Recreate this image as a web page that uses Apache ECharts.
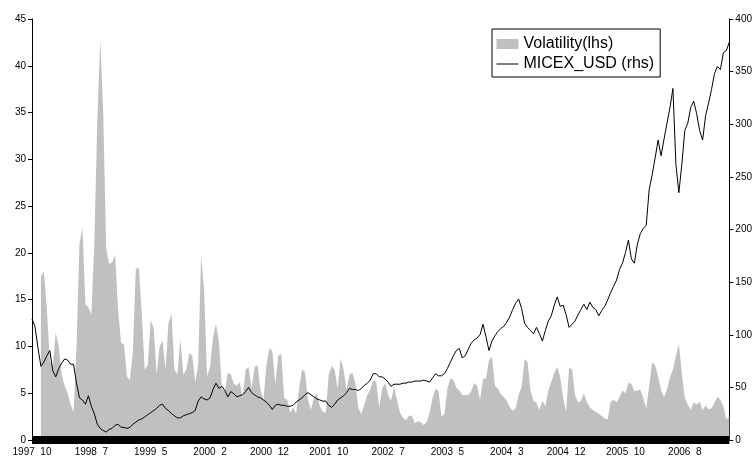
<!DOCTYPE html>
<html>
<head>
<meta charset="utf-8">
<script src="https://cdn.jsdelivr.net/npm/echarts@6/dist/echarts.min.js"></script>
<style>html,body{margin:0;padding:0;background:#fff}#c{width:755px;height:460px}</style>
</head>
<body>
<div id="c"></div>
<script>
// Tick labels shown every 20 periods on the time axis
const tickLabels = ["1997  10","1998  7","1999  5","2000  2","2000  12","2001  10","2002  7","2003  5","2004  3","2004  12","2005  10","2006  8"];
const labelStep = 20;

// Volatility (lhs), 236 periods
const volatility = [
null,null,null,17.5,18.0,14.0,8.5,7.8,11.5,10.0,
7.0,5.8,5.0,3.8,3.0,10.0,21.0,22.7,14.5,14.2,
13.4,21,34,42.8,35,20.5,18.8,19.0,19.8,14.0,
10.4,10.2,6.8,6.4,9.5,18.3,18.4,13.5,7.5,8.0,
12.8,12.0,7.0,10.0,10.6,7.6,12.5,13.5,7.5,7.0,
10.8,7.0,7.5,9.3,9.0,6.2,8.0,19.8,16,6.8,
7.8,11.0,12.4,10.5,5.5,5.2,7.2,7.0,6.0,5.8,
6.2,4.5,7.5,7.8,5.5,7.8,8.0,5.4,4.3,8.0,
9.8,9.5,6.0,9.0,9.2,4.5,4.3,2.9,3.5,2.8,
5.5,7.5,7.3,4.3,3.2,4.5,5.0,3.6,3.0,2.9,
7.0,7.9,7.5,5.5,8.7,7.5,5.4,7.0,7.2,6.0,
3.4,2.8,3.8,4.8,5.4,6.4,6.2,3.5,5.5,6.1,
4.8,4.2,5.7,4.3,2.9,2.4,2.1,2.6,2.6,1.8,
2.0,1.9,1.6,1.9,2.9,4.5,5.5,5.2,2.5,2.8,
5.5,6.6,6.4,5.6,5.3,4.8,4.8,4.8,5.2,6.1,
5.8,4.3,6.5,6.6,8.5,8.9,5.8,5.5,4.9,4.6,
4.2,3.5,3.1,3.4,4.8,5.7,8.6,8.4,5.3,4.2,
4.0,3.2,4.2,3.6,5.3,6.2,7.2,7.8,6.8,4.5,
3.0,7.7,7.6,4.8,4.0,4.2,5.0,4.0,3.5,3.2,
3.0,2.8,2.6,2.3,2.2,4.1,4.3,4.0,4.6,5.3,
5.0,6.1,6.0,5.2,5.3,5.4,4.5,3.4,5.8,8.3,
8.0,6.8,5.3,4.6,5.4,6.7,7.5,9.0,10.3,7.2,
4.5,3.8,3.2,4.0,3.8,4.1,3.2,3.7,3.3,3.4,
4.0,4.6,4.3,3.6,2.2,2.5
];

// MICEX_USD (rhs), 236 periods
const micexUsd = [
115,108,88,70,74,80,85,66,60,68,
73,77,76,72,72,54,40,38,34,42,
32,25,15,11,9,7.6,10,11,14,15,
12,12,11,12,15,17,19,20,22,24,
26,28,30,33,34,30,28,25,23,21,
21,23,24,25,26,28,37,41,39,38,
40,48,54,49,51,47,41,46,44,41,
42,43,46,50,45,43,41,40,38,36,
33,29,33,34,33,33,32,32,33,36,
38,40,43,45,43,41,39,38,37,37,
33,31,34,38,40,42,45,49,48,48,
47,49,52,54,57,63,63,60,60,58,
55,51,53,53,53,54,54,55,55,56,
56,56,57,56,55,59,63,61,61,63,
68,74,80,85,87,78,80,86,92,95,
97,100,110,98,85,94,99,103,106,108,
112,117,124,130,134,125,111,107,104,101,
107,101,94,104,113,118,128,136,127,128,
119,107,110,113,119,124,129,124,131,126,
124,118,123,127,133,140,146,152,162,168,
178,190,172,168,186,196,201,204,238,252,
268,285,270,286,301,316,334,262,235,262,
294,301,316,322,310,294,285,308,320,333,
348,355,352,368,370,378
];

const categories = volatility.map((_, i) => String(i));

const font = "'Liberation Sans', Arial, sans-serif";
const chart = echarts.init(document.getElementById('c'), null, {renderer: 'canvas'});
chart.setOption({
  animation: false,
  backgroundColor: '#ffffff',
  textStyle: {fontFamily: font, color: '#000'},
  grid: {left: 32, right: 20, top: 19, bottom: 20, containLabel: false},
  legend: {
    orient: 'vertical',
    left: 492, top: 29,
    padding: [7, 6, 5, 4],
    itemGap: 4,
    itemWidth: 22, itemHeight: 10,
    borderColor: '#000', borderWidth: 1,
    backgroundColor: '#fff',
    textStyle: {fontFamily: font, fontSize: 16, color: '#000', lineHeight: 16},
    data: [
      {name: 'Volatility(lhs)', icon: 'rect'},
      {name: 'MICEX_USD (rhs)', itemStyle: {opacity: 0}, lineStyle: {color: '#000', width: 1, opacity: 1}}
    ]
  },
  xAxis: {
    type: 'category',
    data: categories,
    boundaryGap: false,
    z: 10,
    axisLine: {show: true, lineStyle: {color: '#000', width: 8, cap: 'butt'}},
    axisTick: {show: false},
    axisLabel: {
      interval: labelStep - 1,
      margin: 7,
      fontFamily: font, fontSize: 10, color: '#000',
      formatter: function (v) {
        const n = Number(v);
        return n % labelStep === 0 ? (tickLabels[n / labelStep] || '') : '';
      }
    },
    splitLine: {show: false}
  },
  yAxis: [
    {
      type: 'value', min: 0, max: 45, interval: 5, position: 'left',
      axisLine: {show: true, lineStyle: {color: '#000', width: 1}},
      axisTick: {show: true, inside: false, length: 4, lineStyle: {color: '#000'}},
      axisLabel: {margin: 6, fontFamily: font, fontSize: 10, color: '#000'},
      splitLine: {show: false}
    },
    {
      type: 'value', min: 0, max: 400, interval: 50, position: 'right',
      axisLine: {show: true, lineStyle: {color: '#000', width: 1}},
      axisTick: {show: true, inside: false, length: 4, lineStyle: {color: '#000'}},
      axisLabel: {margin: 6, fontFamily: font, fontSize: 10, color: '#000'},
      splitLine: {show: false}
    }
  ],
  series: [
    {
      name: 'Volatility(lhs)',
      type: 'line',
      yAxisIndex: 0,
      data: volatility,
      symbol: 'none',
      connectNulls: false,
      itemStyle: {color: '#c0c0c0'},
      lineStyle: {width: 0, color: '#c0c0c0'},
      areaStyle: {color: '#c0c0c0', opacity: 1},
      z: 1
    },
    {
      name: 'MICEX_USD (rhs)',
      type: 'line',
      yAxisIndex: 1,
      data: micexUsd,
      symbol: 'none',
      itemStyle: {color: '#000'},
      lineStyle: {width: 1, color: '#000'},
      z: 3
    }
  ]
});
</script>
</body>
</html>
